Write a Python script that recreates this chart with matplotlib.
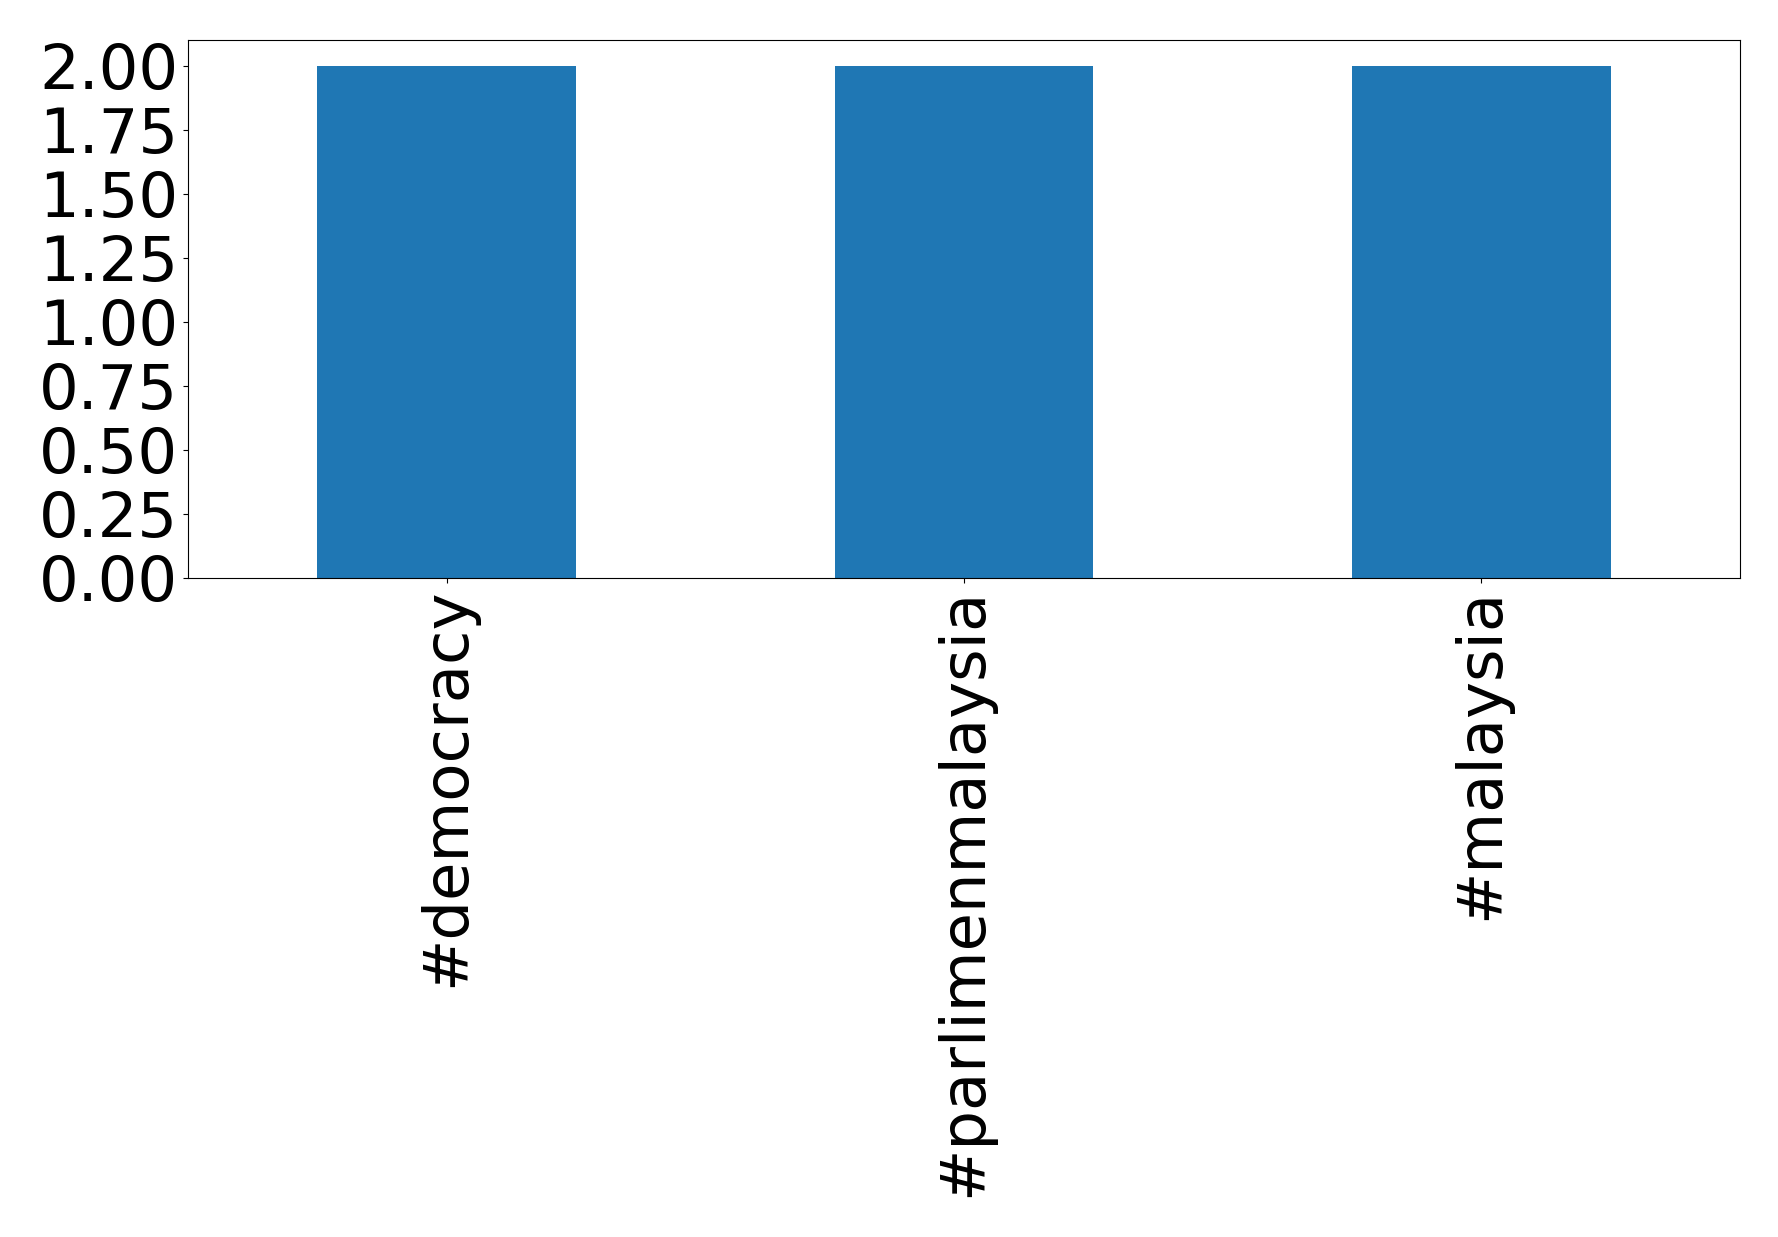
import matplotlib
matplotlib.use("Agg")
import matplotlib.pyplot as plt

tags = ["#democracy", "#parlimenmalaysia", "#malaysia"]
counts = [2, 2, 2]

fig = plt.figure(figsize=(17.78, 12.37), dpi=100)
ax = fig.add_axes([0.1057, 0.533, 0.873, 0.4345])
ax.bar(range(len(tags)), counts, width=0.5, color="#1f77b4")
ax.set_xlim(-0.5, len(tags) - 0.5)
ax.set_ylim(0, 2.1)
ax.set_xticks(range(len(tags)))
ax.set_xticklabels(tags, rotation=90)
ax.set_yticks([0, 0.25, 0.5, 0.75, 1.0, 1.25, 1.5, 1.75, 2.0])
ax.set_yticklabels(["%.2f" % v for v in ax.get_yticks()])
ax.tick_params(labelsize=45)
fig.savefig("out.png", dpi=100)
